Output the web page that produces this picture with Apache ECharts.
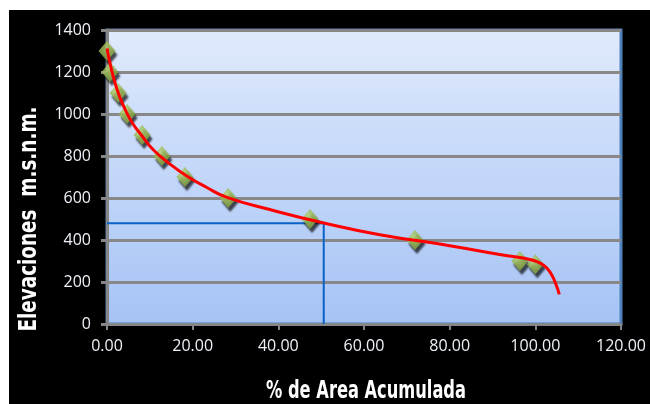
<!DOCTYPE html>
<html>
<head>
<meta charset="utf-8">
<script src="https://cdn.jsdelivr.net/npm/echarts@6/dist/echarts.min.js"></script>
<style>
  html, body { margin: 0; padding: 0; background: #ffffff; }
  #chart { position: absolute; left: 9px; top: 10px; width: 641px; height: 394px; background: #000000; }
</style>
</head>
<body>
<div id="chart"></div>
<script>
// Hypsometric curve: elevation vs. accumulated area percentage
const areaPct   = [0, 0.7, 2.6, 4.7, 8.2, 12.8, 18.2, 28.3, 47.4, 71.9, 96.4, 100];
const elevation = [1300, 1200, 1100, 1000, 900, 800, 700, 600, 500, 400, 300, 285];

// Fitted trend curve (red)
const trendX = [0, 1, 2, 3, 4.5, 6, 8, 10.8, 14.5, 18.6, 23.3, 28, 38, 50.6, 63.7, 80, 92, 97, 100, 102, 103.5, 104.6, 105.6];
const trendY = [1312, 1215, 1140, 1080, 1010, 955, 900, 830, 765, 705, 650, 603, 545, 481, 425, 373, 330, 314, 300, 279, 245, 200, 141];

// Median elevation read-off guide (blue)
const guideX = [0, 50.6, 50.6];
const guideY = [480, 480, 0];

const xTicks = { min: 0, max: 120, interval: 20 };
const yTicks = { min: 0, max: 1400, interval: 200 };

const xTitle = '% de Area Acumulada';
const yTitle = 'Elevaciones  m.s.n.m.';

const pts = areaPct.map((x, i) => [x, elevation[i]]);
const trend = trendX.map((x, i) => [x, trendY[i]]);
const guide = guideX.map((x, i) => {
  const d = { value: [x, guideY[i]] };
  if (i === 0) {
    d.label = {
      show: true, position: 'left', distance: 17,
      formatter: p => String(p.value[1]),
      color: '#ffffff', fontFamily: 'Open Sans', fontWeight: 'bold', fontSize: 16
    };
  }
  return d;
});

const tickFont = { color: '#eef2f8', fontFamily: 'Open Sans', fontSize: 16 };
const titleFontCss = 'bold 25px "DejaVu Sans"';

const chart = echarts.init(document.getElementById('chart'), null, { renderer: 'canvas' });
chart.setOption({
  backgroundColor: 'transparent',
  animation: false,
  grid: {
    left: 98, right: 29, top: 20, bottom: 80,
    show: true,
    borderColor: '#4f81bd', borderWidth: 3,
    backgroundColor: new echarts.graphic.LinearGradient(0, 0, 0, 1, [
      { offset: 0, color: '#e0eafc' },
      { offset: 1, color: '#a5c3f5' }
    ])
  },
  // Axis titles in a condensed bold face
  graphic: [
    {
      type: 'text', x: 357, y: 381, scaleX: 0.65,
      style: { text: xTitle, font: titleFontCss, fill: '#ffffff', align: 'center', verticalAlign: 'middle' }
    },
    {
      type: 'text', x: 20, y: 209, rotation: Math.PI / 2, scaleX: 0.735,
      style: { text: yTitle, font: titleFontCss, fill: '#ffffff', align: 'center', verticalAlign: 'middle' }
    }
  ],
  xAxis: {
    type: 'value', min: xTicks.min, max: xTicks.max, interval: xTicks.interval,
    axisLine: { onZero: false, lineStyle: { color: '#868686', width: 3 } },
    axisTick: { show: true, length: 6, lineStyle: { color: '#868686', width: 2 } },
    axisLabel: Object.assign({ margin: 14, formatter: v => v.toFixed(2) }, tickFont),
    splitLine: { show: false }
  },
  yAxis: {
    type: 'value', min: yTicks.min, max: yTicks.max, interval: yTicks.interval,
    axisLine: { show: true, lineStyle: { color: '#868686', width: 3 } },
    axisTick: { show: true, length: 6, lineStyle: { color: '#868686', width: 3 } },
    axisLabel: Object.assign({ margin: 16, formatter: v => String(v) }, tickFont),
    splitLine: { show: true, lineStyle: { color: '#888888', width: 3 } }
  },
  series: [
    {
      name: 'guide', type: 'line', data: guide, showSymbol: false, symbol: 'none',
      lineStyle: { color: '#0a62c8', width: 2 }, z: 2, silent: true
    },
    {
      name: 'elevaciones', type: 'scatter', data: pts,
      symbol: 'diamond', symbolSize: [17, 20],
      itemStyle: {
        color: new echarts.graphic.RadialGradient(0.45, 0.4, 0.7, [
          { offset: 0, color: '#bddc74' },
          { offset: 1, color: '#76972f' }
        ]),
        shadowColor: 'rgba(0,0,0,0.85)', shadowBlur: 2, shadowOffsetX: 2, shadowOffsetY: 4
      },
      z: 3
    },
    {
      name: 'tendencia', type: 'line', data: trend, smooth: true,
      showSymbol: false, symbol: 'none',
      lineStyle: { color: '#ff0000', width: 3 }, z: 4
    }
  ]
});
</script>
</body>
</html>
